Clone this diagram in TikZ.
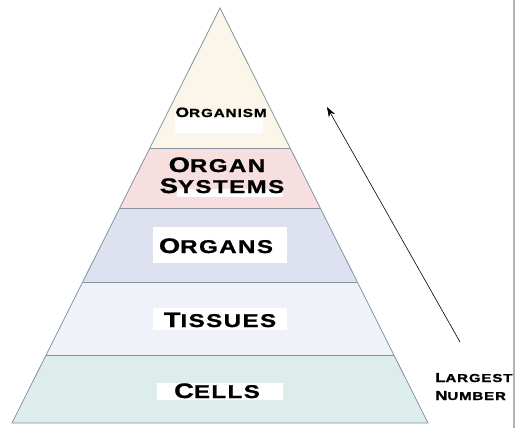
\documentclass[tikz,border=0pt]{standalone}
\usepackage{fontspec}
\usetikzlibrary{arrows.meta}
\newfontfamily\lblfont[FakeStretch=1.3,LetterSpace=8,FakeBold=1.2]{Liberation Sans Bold}
\newcommand{\fsc}[4]{{\lblfont\fontsize{#1}{#1}\selectfont #3\fontsize{#2}{#2}\selectfont #4}}
\definecolor{tierA}{HTML}{FBF6E9}
\definecolor{tierB}{HTML}{F7DEDF}
\definecolor{tierC}{HTML}{DDE1F0}
\definecolor{tierD}{HTML}{EFF2F8}
\definecolor{tierE}{HTML}{DDEDEC}
\definecolor{edgecol}{HTML}{8594A0}
\tikzset{
  tierline/.style={draw=edgecol, line width=0.8pt},
  whitebox/.style={fill=white, draw=none},
  lbl/.style={anchor=base, inner sep=0pt, text=black},
  sidelbl/.style={anchor=base west, inner sep=0pt, text=black},
}
\begin{document}
\begin{tikzpicture}[x=1pt,y=-1pt]
\useasboundingbox (0,0) rectangle (516,428);
\fill[white] (0,0) rectangle (516,428);
% tiers
\fill[tierA] (220,8) -- (149.8,148) -- (290.2,148) -- cycle;
\fill[tierB] (149.8,148) -- (119.8,208) -- (320.2,208) -- (290.2,148) -- cycle;
\fill[tierC] (119.8,208) -- (82.7,282) -- (357.3,282) -- (320.2,208) -- cycle;
\fill[tierD] (82.7,282) -- (46.1,355) -- (393.9,355) -- (357.3,282) -- cycle;
\fill[tierE] (46.1,355) -- (12,423) -- (428,423) -- (393.9,355) -- cycle;
\draw[tierline] (220,8) -- (12,423) -- (428,423) -- cycle;
\draw[tierline] (149.8,148) -- (290.2,148);
\draw[tierline] (119.8,208) -- (320.2,208);
\draw[tierline] (82.7,282) -- (357.3,282);
\draw[tierline] (46.1,355) -- (393.9,355);
% white boxes
\fill[whitebox] (175,115) rectangle (263,133);
\fill[whitebox] (177,189) rectangle (283,197);
\fill[whitebox] (153,227) rectangle (287,263);
\fill[whitebox] (153,308) rectangle (287,330);
\fill[whitebox] (157,383) rectangle (283,400);
% labels
\node[lbl] (organism) at (221,117) {\fsc{13.5}{11.7}{O}{RGANISM}};
\node[lbl] (organ) at (217,172) {\fsc{21}{18.5}{O}{RGAN}};
\node[lbl] (systems) at (222,193) {\fsc{21}{18.5}{S}{YSTEMS}};
\node[lbl] (organs) at (216,253) {\fsc{21}{18.5}{O}{RGANS}};
\node[lbl] (tissues) at (220,327) {\fsc{21}{18.5}{T}{ISSUES}};
\node[lbl] (cells) at (217,398) {\fsc{21}{18.5}{C}{ELLS}};
\node[sidelbl] (largest) at (435,382) {\fsc{13}{11.5}{L}{ARGEST}};
\node[sidelbl] (number) at (435,400) {\fsc{13}{11.5}{N}{UMBER}};
% arrow
\coordinate (arrstart) at (460,342);
\coordinate (arrend) at (327,107);
\draw[line width=0.6pt, -{Stealth[length=10pt,width=7pt]}] (arrstart) -- (arrend);
% right frame edge
\draw[gray!60, line width=1.2pt] (514,0) -- (514,428);
\end{tikzpicture}
\end{document}
